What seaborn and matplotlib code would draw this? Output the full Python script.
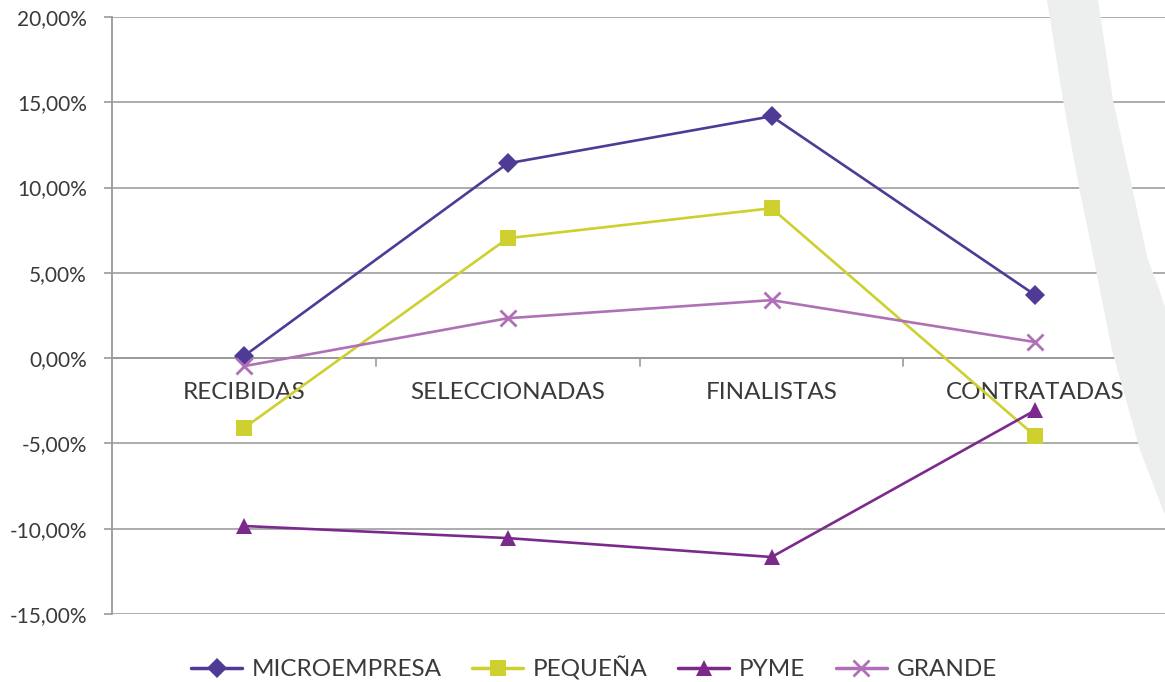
import matplotlib
matplotlib.use("Agg")
import matplotlib.pyplot as plt
from matplotlib.patches import Polygon
from matplotlib.lines import Line2D
from matplotlib.ticker import FuncFormatter
import pandas as pd
import seaborn as sns

# Data (% difference by company size across hiring stages)
stages = ["RECIBIDAS", "SELECCIONADAS", "FINALISTAS", "CONTRATADAS"]
microempresa = [0.12, 11.42, 14.18, 3.69]
pequena = [-4.10, 7.03, 8.79, -4.57]
pyme = [-9.84, -10.55, -11.66, -3.05]
grande = [-0.47, 2.34, 3.40, 0.94]
series_names = ["MICROEMPRESA", "PEQUEÑA", "PYME", "GRANDE"]
y_ticks = [-15, -10, -5, 0, 5, 10, 15, 20]

rows = []
for name, vals in zip(series_names, [microempresa, pequena, pyme, grande]):
    for i, v in enumerate(vals):
        rows.append({"pos": i, "stage": stages[i], "serie": name, "valor": v})
df = pd.DataFrame(rows)

sns.set_theme(style="white")
plt.rcParams["font.family"] = ["Lato", "DejaVu Sans"]
TEXT = "#3a3a3a"

palette = {"MICROEMPRESA": "#4f3a96", "PEQUEÑA": "#cdd02e",
           "PYME": "#7b2a8c", "GRANDE": "#b070b8"}
markers = {"MICROEMPRESA": "D", "PEQUEÑA": "s", "PYME": "^", "GRANDE": "x"}
msizes = {"MICROEMPRESA": 10, "PEQUEÑA": 12, "PYME": 11, "GRANDE": 11}

fig = plt.figure(figsize=(11.65, 6.82), dpi=100)
fig.patch.set_facecolor("white")

# Decorative curved band in the background (pixel outline)
H, W = 682.0, 1165.0
left_edge = [(1047, 0), (1063, 100), (1079, 187), (1093, 255), (1112, 350),
             (1126, 400), (1140, 450), (1163, 510), (1170, 525)]
right_edge = [(1170, 318), (1165, 307), (1157, 283), (1148, 260), (1132, 187),
              (1113, 100), (1098, 0)]
pts = [(x / W, 1 - y / H) for x, y in left_edge + right_edge]
fig.patches.append(Polygon(pts, closed=True, transform=fig.transFigure,
                           facecolor="#edeeee", edgecolor="none", zorder=0))

ax = fig.add_axes([112 / W, 1 - 614 / H, 1 - 112 / W + 0.002, (614 - 17) / H])
ax.set_facecolor("none")

for name in series_names:
    sub = df[df["serie"] == name]
    filled = markers[name] != "x"
    sns.lineplot(data=sub, x="pos", y="valor", color=palette[name],
                 marker=markers[name], markersize=msizes[name],
                 markeredgewidth=0 if filled else 2.0,
                 markeredgecolor=palette[name],
                 linewidth=1.9, sort=False, ax=ax, zorder=5)

ax.set_xlim(-0.5, 3.5)
ax.set_ylim(-15, 20)
ax.set_yticks(y_ticks)
ax.yaxis.set_major_formatter(FuncFormatter(lambda v, p: f"{v:.2f}%".replace(".", ",")))
ax.tick_params(axis="y", labelsize=15, colors=TEXT, length=6, width=1.2,
               direction="out", color="#999999", pad=12, left=True)
ax.grid(axis="y", color="#a6a6a6", linewidth=1.3, zorder=1)
ax.set_axisbelow(True)

ax.set_xticks([])
ax.set_xlabel("")
ax.set_ylabel("")
for s in ["top", "right", "bottom"]:
    ax.spines[s].set_visible(False)
ax.spines["left"].set_color("#999999")
ax.spines["left"].set_linewidth(1.3)

# zero line with category separators
ax.axhline(0, color="#999999", linewidth=1.3, zorder=2)
for b in [0.5, 1.5, 2.5]:
    ax.plot([b, b], [0, -0.45], color="#999999", linewidth=1.2, zorder=2)
for i, st in enumerate(stages):
    ax.text(i, -2.0, st, ha="center", va="center", fontsize=17.5,
            color=TEXT, zorder=3)

handles = []
for name in series_names:
    h = Line2D([], [], color=palette[name], marker=markers[name],
               markersize=msizes[name], linewidth=2.5,
               markeredgewidth=2.0 if markers[name] == "x" else 0,
               markeredgecolor=palette[name])
    handles.append(h)
leg = fig.legend(handles, series_names, loc="center", ncol=4,
                 bbox_to_anchor=(594 / W, 1 - 668 / H), frameon=False,
                 fontsize=17.5, handlelength=2.1, columnspacing=1.25,
                 handletextpad=0.4)
for t in leg.get_texts():
    t.set_color(TEXT)

fig.savefig("out.png", dpi=100, facecolor="white")
